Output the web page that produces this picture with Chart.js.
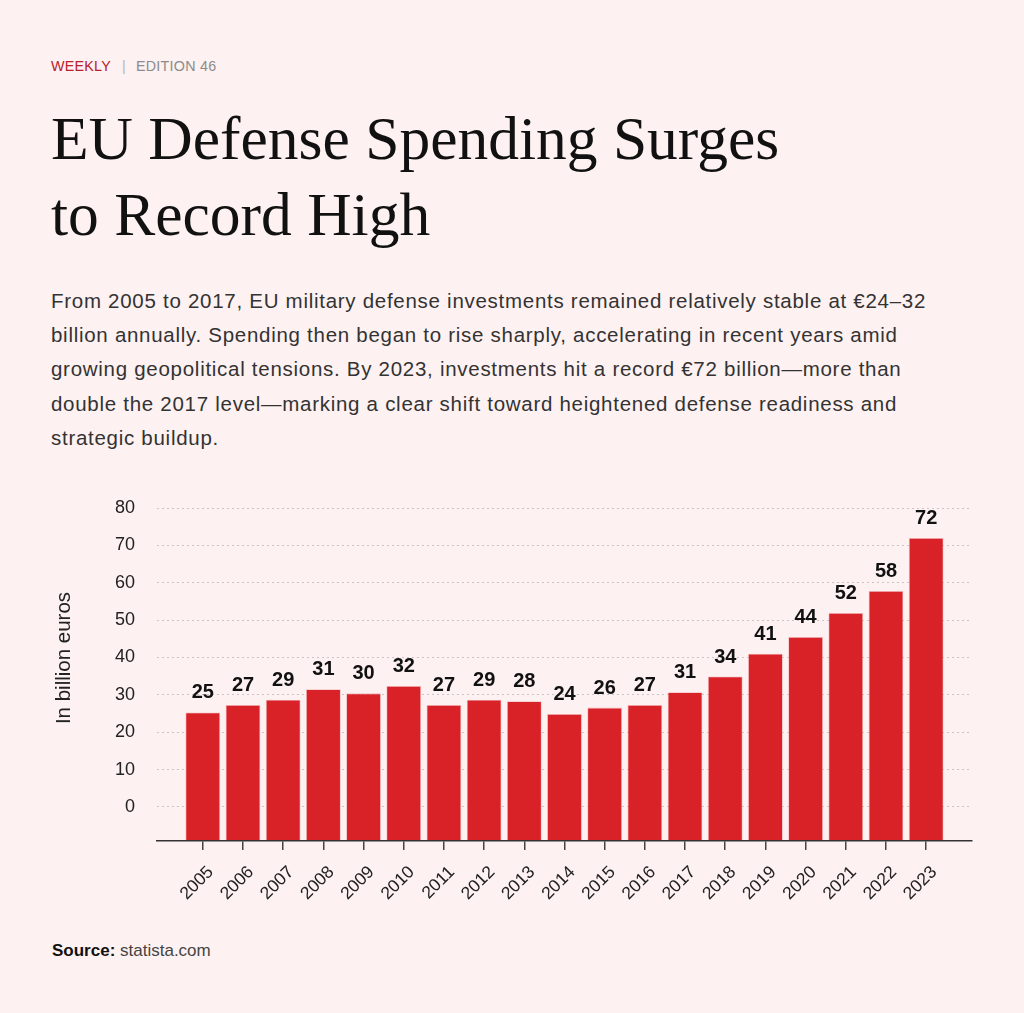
<!DOCTYPE html>
<html>
<head>
<meta charset="utf-8">
<script src="https://cdn.jsdelivr.net/npm/chart.js@4.4.1/dist/chart.umd.min.js"></script>
<style>
  html, body { margin: 0; padding: 0; background: #fdf1f1; }
  body { width: 1024px; height: 1013px; position: relative; overflow: hidden; font-family: "Liberation Sans", Arial, sans-serif; }
  .abs { position: absolute; white-space: nowrap; }
  #kicker { left: 51px; top: 59px; font-size: 14.3px; line-height: 14px; letter-spacing: 0.25px; }
  #kicker .red { color: #b8202a; }
  #kicker .sep { color: #b5b5b5; margin: 0 10px 0 11px; }
  #kicker .gray { color: #8c8c8c; }
  #title { left: 51px; top: 100px; font-family: "Liberation Serif", "Times New Roman", serif; font-size: 61.5px; line-height: 76px; color: #111; }
  #desc { left: 51px; top: 284px; font-size: 20.5px; line-height: 34.2px; color: #333; letter-spacing: 0.72px; }
  #source { left: 52px; top: 941px; font-size: 17px; line-height: 20px; color: #444; }
  #source b { color: #111; }
  #chartWrap { position: absolute; left: 0; top: 490px; width: 1024px; height: 430px; }
</style>
</head>
<body>
<div id="kicker" class="abs"><span class="red">WEEKLY</span><span class="sep">|</span><span class="gray">EDITION 46</span></div>
<div id="title" class="abs">EU Defense Spending Surges<br>to Record High</div>
<div id="desc" class="abs">From 2005 to 2017, EU military defense investments remained relatively stable at €24–32<br>billion annually. Spending then began to rise sharply, accelerating in recent years amid<br>growing geopolitical tensions. By 2023, investments hit a record €72 billion—more than<br>double the 2017 level—marking a clear shift toward heightened defense readiness and<br>strategic buildup.</div>
<div id="chartWrap"><canvas id="chart" width="1024" height="430"></canvas></div>
<div id="source" class="abs"><b>Source:</b> statista.com</div>

<script>
// ---- Data ----
const years = [2005, 2006, 2007, 2008, 2009, 2010, 2011, 2012, 2013, 2014, 2015, 2016, 2017, 2018, 2019, 2020, 2021, 2022, 2023];
const spending = [25.3, 27.3, 28.7, 31.5, 30.4, 32.4, 27.3, 28.7, 28.3, 24.9, 26.6, 27.3, 30.7, 34.9, 41.0, 45.5, 51.9, 57.8, 72.0];
const valueLabels = ["25", "27", "29", "31", "30", "32", "27", "29", "28", "24", "26", "27", "31", "34", "41", "44", "52", "58", "72"];
const yTicks = [0, 10, 20, 30, 40, 50, 60, 70, 80];
const yTitle = "In billion euros";

const Y_MIN = -9.1, Y_MAX = 80;

const valueLabelPlugin = {
  id: 'valueLabels',
  afterDatasetsDraw(chart) {
    const ctx = chart.ctx;
    const meta = chart.getDatasetMeta(0);
    ctx.save();
    ctx.fillStyle = '#111';
    ctx.font = 'bold 20px "Liberation Sans", Arial, sans-serif';
    ctx.textAlign = 'center';
    ctx.textBaseline = 'alphabetic';
    meta.data.forEach((bar, i) => {
      ctx.fillText(valueLabels[i], bar.x, bar.y - 14);
    });
    ctx.restore();
  },
  afterDraw(chart) {
    const ctx = chart.ctx;
    ctx.save();
    ctx.fillStyle = '#222';
    ctx.font = '20.5px "Liberation Sans", Arial, sans-serif';
    ctx.textAlign = 'center';
    ctx.textBaseline = 'middle';
    ctx.translate(64, 168);
    ctx.rotate(-Math.PI / 2);
    ctx.fillText(yTitle, 0, 0);
    ctx.restore();
  }
};

new Chart(document.getElementById('chart'), {
  type: 'bar',
  data: {
    datasets: [{
      data: years.map((y, i) => ({ x: y, y: spending[i] })),
      backgroundColor: '#d92128',
      borderColor: '#f2b9bb',
      borderWidth: 0.8,
      base: Y_MIN,
      categoryPercentage: 1,
      barPercentage: 0.865
    }]
  },
  options: {
    responsive: false,
    animation: false,
    devicePixelRatio: 1,
    layout: { padding: { top: 18, right: 52, left: 0, bottom: 0 } },
    plugins: { legend: { display: false }, tooltip: { enabled: false } },
    scales: {
      x: {
        type: 'linear',
        offset: false,
        min: 2003.86,
        max: 2024.14,
        afterBuildTicks: (scale) => { scale.ticks = years.map(v => ({ value: v })); },
        afterFit: (scale) => { scale.height = 79; },
        grid: { display: true, z: 1, offset: false, drawOnChartArea: false, drawTicks: true, tickLength: 9, color: '#444', tickColor: '#444', tickWidth: 1.5, lineWidth: 1.5 },
        border: { display: true, z: 1, color: '#333', width: 1.5 },
        ticks: {
          autoSkip: false,
          minRotation: 45,
          maxRotation: 45,
          padding: 12,
          labelOffset: 8,
          color: '#222',
          font: { family: '"Liberation Sans", Arial, sans-serif', size: 17.5 },
          callback: (v) => String(v)
        }
      },
      y: {
        min: Y_MIN,
        max: Y_MAX,
        afterBuildTicks: (scale) => { scale.ticks = yTicks.map(v => ({ value: v })); },
        afterFit: (scale) => { scale.width = 157; },
        grid: { color: '#cbc5c5', lineWidth: 1, drawTicks: true, tickLength: 22, tickColor: 'rgba(0,0,0,0)' },
        border: { display: false, dash: [2, 3] },
        ticks: {
          padding: 0,
          color: '#222',
          font: { family: '"Liberation Sans", Arial, sans-serif', size: 18 },
          callback: (v) => String(v)
        }
      }
    }
  },
  plugins: [valueLabelPlugin]
});
</script>
</body>
</html>
